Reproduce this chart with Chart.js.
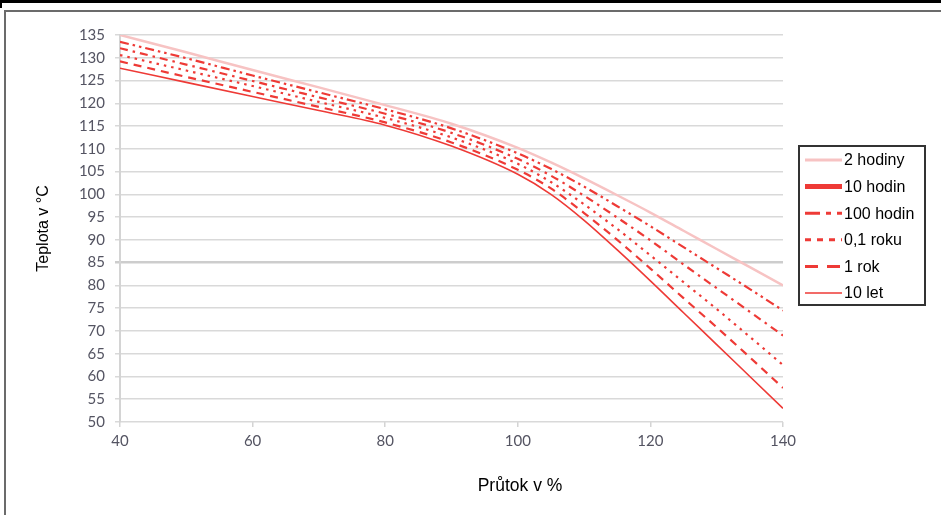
<!DOCTYPE html>
<html lang="cs">
<head>
<meta charset="UTF-8">
<title>Teplota v závislosti na průtoku</title>
<script src="https://cdn.jsdelivr.net/npm/chart.js@4"></script>
<style>
  body { margin: 0; background: #fff; }
  #wrap { position: relative; width: 941px; height: 515px; overflow: hidden; }
  #chart { position: absolute; left: 0; top: 0; }
  #topBar { position: absolute; left: 0; top: 0; width: 941px; height: 3px; background: #000; }
  #topTick { position: absolute; left: 0; top: 0; width: 2px; height: 8px; background: #000; }
  #frame { position: absolute; left: 4px; top: 10px; width: 960px; height: 540px;
           border-top: 2px solid #6b6b6b; border-left: 2px solid #6b6b6b; }
</style>
</head>
<body>
<div id="wrap">
  <canvas id="chart" width="941" height="515"></canvas>
  <div id="frame"></div>
  <div id="topBar"></div>
  <div id="topTick"></div>
</div>
<script>
// průtok v % (osa x)
const flow = [40, 50, 60, 70, 80, 90, 100, 105, 110, 115, 120, 125, 130, 135, 140];

// teplota v °C pro jednotlivé doby
const t2hodiny  = [135, 131.2, 127.3, 123.5, 119.6, 115.5, 110.2, 107, 103.5, 99.8, 96, 92, 88, 84, 80];
const t10hodin  = [133.5, 129.9, 126.1, 122.4, 118.7, 114.5, 109, 105.6, 101.7, 97.4, 93, 88.4, 83.8, 79.2, 74.5];
const t100hodin = [132.1, 128.5, 124.9, 121.3, 117.7, 113.5, 107.8, 104.1, 99.7, 94.9, 89.9, 84.6, 79.4, 74.2, 69];
const t01roku   = [130.6, 127.2, 123.8, 120.3, 116.8, 112.5, 106.7, 102.7, 97.8, 92.4, 86.6, 80.7, 74.8, 68.7, 62.5];
const t1rok     = [129.2, 125.8, 122.5, 119.2, 115.8, 111.4, 105.4, 101.3, 95.9, 90, 83.7, 77.2, 70.8, 64.2, 57.5];
const t10let    = [127.7, 124.6, 121.5, 118.4, 115.2, 110.6, 104.4, 100, 94.3, 87.8, 81, 74, 67, 60, 53];

const seriesNames = ['2 hodiny', '10 hodin', '100 hodin', '0,1 roku', '1 rok', '10 let'];
const seriesData = [t2hodiny, t10hodin, t100hodin, t01roku, t1rok, t10let];

const xTicks = [40, 60, 80, 100, 120, 140];
const yMin = 50, yMax = 135, yStep = 5;

const RED = '#ee3a36';
// styl čar v grafu
const lineStyles = [
  { color: '#f7c3c3', width: 2.5, dash: [] },
  { color: RED, width: 2.2, dash: [9, 4, 2.5, 4, 2.5, 4] },
  { color: RED, width: 2.2, dash: [8, 5, 2.5, 5] },
  { color: RED, width: 2.2, dash: [2.5, 5] },
  { color: RED, width: 2.2, dash: [8, 6] },
  { color: RED, width: 1.6, dash: [] }
];
// styl vzorků v legendě
const legendStyles = [
  { color: '#f7c3c3', width: 3, dash: [] },
  { color: RED, width: 5, dash: [] },
  { color: RED, width: 3, dash: [15, 6, 5, 6] },
  { color: RED, width: 3, dash: [6, 6] },
  { color: RED, width: 3, dash: [13, 9] },
  { color: RED, width: 1.5, dash: [] }
];

const datasets = seriesNames.map((name, i) => ({
  label: name,
  data: flow.map((x, j) => ({ x: x, y: seriesData[i][j] })),
  borderColor: lineStyles[i].color,
  borderWidth: lineStyles[i].width,
  borderDash: lineStyles[i].dash,
  pointRadius: 0,
  fill: false,
  cubicInterpolationMode: 'monotone'
}));

const boxLegend = {
  id: 'boxLegend',
  afterDraw(chart) {
    const ctx = chart.ctx;
    ctx.save();
    // název osy x
    ctx.font = '17.5px "Liberation Sans", Arial, sans-serif';
    ctx.fillStyle = '#000';
    ctx.textAlign = 'center';
    ctx.textBaseline = 'middle';
    ctx.fillText('Průtok v %', 520, 486);
    // legenda
    ctx.textAlign = 'left';
    ctx.strokeStyle = '#333';
    ctx.lineWidth = 2;
    ctx.strokeRect(799, 146, 126, 159);
    ctx.font = '16px "Liberation Sans", Arial, sans-serif';
    seriesNames.forEach((name, i) => {
      const y = 160 + i * 26.6;
      const st = legendStyles[i];
      ctx.beginPath();
      ctx.setLineDash(st.dash);
      ctx.strokeStyle = st.color;
      ctx.lineWidth = st.width;
      ctx.moveTo(805, y);
      ctx.lineTo(842, y);
      ctx.stroke();
      ctx.setLineDash([]);
      ctx.fillText(name, 844, y + 1);
    });
    ctx.restore();
  }
};

const ctx = document.getElementById('chart').getContext('2d');
new Chart(ctx, {
  type: 'line',
  data: { datasets: datasets },
  options: {
    responsive: false,
    animation: false,
    events: [],
    layout: { padding: { left: 0, top: 35, right: 158, bottom: 0 } },
    plugins: { legend: { display: false }, tooltip: { enabled: false } },
    scales: {
      x: {
        type: 'linear',
        min: 40, max: 140,
        afterBuildTicks: s => { s.ticks = xTicks.map(v => ({ value: v })); },
        afterFit: s => { s.height = 93; },
        grid: { drawOnChartArea: false, drawTicks: true, tickLength: 5, color: '#d4d4d4', lineWidth: 1.5 },
        border: { display: false },
        ticks: { color: '#545462', padding: 5, font: { family: 'Lato', size: 15 } }
      },
      y: {
        min: yMin, max: yMax,
        ticks: { stepSize: yStep, color: '#545462', padding: 10, font: { family: 'Lato', size: 15 } },
        afterFit: s => { s.width = 120; },
        grid: {
          tickLength: 5,
          color: c => c.tick && c.tick.value === 85 ? '#cdcdcd' : '#d9d9d9',
          lineWidth: c => c.tick && c.tick.value === 85 ? 2.5 : 1.5
        },
        border: { display: true, color: '#d4d4d4', width: 2 },
        title: { display: true, text: 'Teplota v °C', color: '#000',
                 font: { family: '"Liberation Sans", Arial', size: 16 }, padding: { top: 34 } }
      }
    }
  },
  plugins: [boxLegend]
});
</script>
</body>
</html>
